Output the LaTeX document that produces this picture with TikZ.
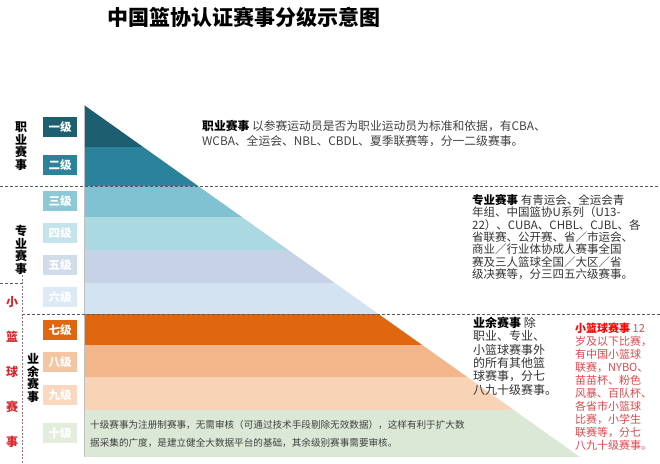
\documentclass[tikz,border=0pt]{standalone}
\usepackage{fontspec}
\setmainfont{Noto Sans CJK SC}
\usetikzlibrary{positioning}

\definecolor{bandA}{HTML}{1D5E70}
\definecolor{bandB}{HTML}{2B839B}
\definecolor{bandC}{HTML}{80C2D2}
\definecolor{bandD}{HTML}{AAD9E1}
\definecolor{bandE}{HTML}{C6D3E6}
\definecolor{bandF}{HTML}{D4E3F1}
\definecolor{bandG}{HTML}{E0670F}
\definecolor{bandH}{HTML}{F3B58A}
\definecolor{bandI}{HTML}{F9D3B6}
\definecolor{bandJ}{HTML}{DBE8D6}
\definecolor{redtxt}{HTML}{D8262C}

\begin{document}
\begin{tikzpicture}[x=1pt,y=-1pt,
	lvl/.style={minimum width=34pt,minimum height=20pt,inner sep=0pt,text=white,font=\fontsize{11.5}{11.5}\selectfont\bfseries},
	vlabel/.style={align=center,inner sep=0pt,font=\fontsize{12}{12.5}\selectfont\bfseries},
	note/.style={anchor=north west,align=left,inner sep=0pt},
	sep/.style={dashed,dash pattern=on 3pt off 2pt,draw=black!65,line width=0.8pt}]
	\useasboundingbox (0,0) rectangle (660,463);

	\node[font=\fontsize{21}{21}\selectfont\bfseries]	(title)	at (244,17)	{中国篮协认证赛事分级示意图};

	% bands cut by the triangle
	\begin{scope}
		\clip (84,105) -- (580,457) -- (84,457) -- cycle;
		\fill[bandA] (84,105) rectangle (660,147);
		\fill[bandB] (84,147) rectangle (660,186);
		\fill[bandC] (84,186) rectangle (660,217);
		\fill[bandD] (84,217) rectangle (660,250);
		\fill[bandE] (84,250) rectangle (660,283);
		\fill[bandF] (84,283) rectangle (660,314);
		\fill[bandG] (84,314) rectangle (660,345);
		\fill[bandH] (84,345) rectangle (660,377);
		\fill[bandI] (84,377) rectangle (660,410);
		\fill[bandJ] (84,410) rectangle (660,457);
	\end{scope}
	\draw[black!25,line width=0.6pt] (84,105) -- (84,457);

	\draw[sep] (0,186) -- (660,186);
	\draw[sep] (22,314) -- (660,314);
	\draw[sep] (0,283) -- (22,283);
	\draw[dashed,dash pattern=on 2pt off 1.5pt,draw=redtxt!40!black!60,line width=0.8pt] (22,275) -- (22,463);

	\node[lvl,fill=bandA]				(l1)	at (60,127)	{一级};
	\node[lvl,fill=bandB]				(l2)	at (60,165)	{二级};
	\node[lvl,fill=bandC!90!white]		(l3)	at (60,201)	{三级};
	\node[lvl,fill=bandD!70!white]		(l4)	at (60,233)	{四级};
	\node[lvl,fill=bandE!80!white]		(l5)	at (60,265)	{五级};
	\node[lvl,fill=bandF!80!white]		(l6)	at (60,297)	{六级};
	\node[lvl,fill=bandG]				(l7)	at (60,330)	{七级};
	\node[lvl,fill=bandH!80!white]		(l8)	at (60,362)	{八级};
	\node[lvl,fill=bandI!90!white]		(l9)	at (60,395)	{九级};
	\node[lvl,fill=bandJ!80!white]		(l10)	at (60,433)	{十级};

	\node[vlabel]							(pro)	at (21,146)	{职\\业\\赛\\事};
	\node[vlabel]							(semi)	at (21,250)	{专\\业\\赛\\事};
	\node[vlabel]							(ama)	at (33,378)	{业\\余\\赛\\事};
	\node[vlabel,text=redtxt,font=\fontsize{12}{35}\selectfont\bfseries]	(kids)	at (12,372)	{小\\篮\\球\\赛\\事};

	\node[note,text=black!75,font=\fontsize{11.8}{15}\selectfont]	(proTxt)	at (202,120)
		{\textbf{\color{black}职业赛事} 以参赛运动员是否为职业运动员为标准和依据，有CBA、\\WCBA、全运会、NBL、CBDL、夏季联赛等，分一二级赛事。};
	\node[note,text=black!80,font=\fontsize{11.5}{12.4}\selectfont]	(semiTxt)	at (472,194)
		{\textbf{\color{black}专业赛事} 有青运会、全运会青\\年组、中国篮协U系列（U13-\\22）、CUBA、CHBL、CJBL、各\\省联赛、公开赛、省／市运会、\\商业／行业体协成人赛事全国\\赛及三人篮球全国／大区／省\\级决赛等，分三四五六级赛事。};
	\node[note,text=black!80,font=\fontsize{12}{13.3}\selectfont]	(amaTxt)	at (473,317)
		{\textbf{\color{black}业余赛事} 除\\职业、专业、\\小篮球赛事外\\的所有其他篮\\球赛事，分七\\八九十级赛事。};
	\node[note,text=redtxt!85,font=\fontsize{11}{13}\selectfont]	(kidsTxt)	at (575,323)
		{\textbf{\color{red}小篮球赛事} 12\\岁及以下比赛，\\有中国小篮球\\联赛，NYBO、\\苗苗杯、粉色\\风暴、百队杯、\\各省市小篮球\\比赛，小学生\\联赛等，分七\\八九十级赛事。};
	\node[note,text=black!75,font=\fontsize{9.6}{18}\selectfont]	(tenTxt)	at (90,420)
		{十级赛事为注册制赛事，无需审核（可通过技术手段剔除无效数据），这样有利于扩大数\\据采集的广度，是建立健全大数据平台的基础，其余级别赛事需要审核。};
\end{tikzpicture}
\end{document}
